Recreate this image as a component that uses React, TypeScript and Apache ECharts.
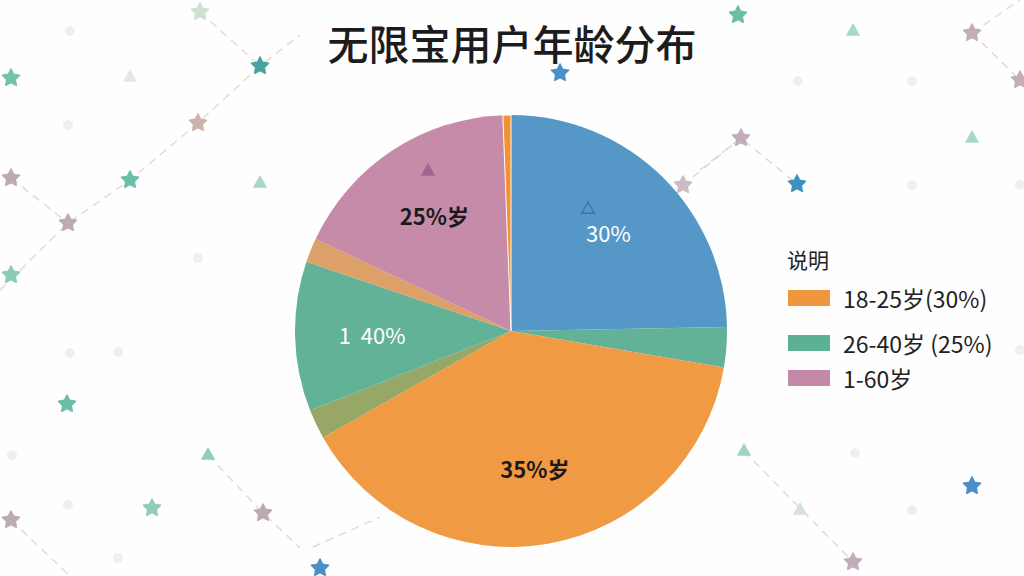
import React, { useEffect, useRef } from "react";
import * as echarts from "echarts";

// ---- data ----
const titleText = "无限宝用户年龄分布";
const sliceNames = ["A", "B", "C", "D", "E", "F", "G", "H"];
const sliceValues = [24.7, 3.0, 39.1, 2.2, 11.2, 1.8, 17.4, 0.6];
const sliceColors = ["#4e93c5", "#5caf93", "#f0963c", "#93a35f", "#5caf93", "#dc9c62", "#c486a6", "#f08f2a"];
const sliceLabels = ["30%", "", "35%岁", "", "1  40%", "", "25%岁", ""];
const sliceLabelColors = ["#ffffff", "#ffffff", "#1a1a1a", "#ffffff", "#ffffff", "#ffffff", "#1a1a1a", "#ffffff"];
const sliceLabelWeights = ["normal", "normal", "bold", "normal", "normal", "normal", "bold", "normal"];
const legendTitle = "说明";
const legendLabels = ["18-25岁(30%)", "26-40岁 (25%)", "1-60岁"];
const legendColors = ["#f0963c", "#5cb093", "#c488a8"];

// ---- decoration (not data) ----
const decoStars: [number, number, string][] = [
  [200, 12, "#cfe0d2"], [260, 66, "#4aa3a0"], [130, 180, "#6cc0aa"], [68, 223, "#bdaab2"],
  [11, 178, "#bdaab2"], [11, 78, "#74c2a8"], [11, 275, "#8ccbb5"], [67, 404, "#6cbea8"],
  [11, 520, "#bdaab2"], [263, 513, "#bdaab2"], [738, 15, "#6cbea8"], [1020, 80, "#c4adba"],
  [741, 138, "#c4adba"], [797, 184, "#3d92c0"], [853, 562, "#c4adba"], [972, 486, "#4b8fc8"],
  [560, 73, "#4a90c8"], [320, 568, "#4a90c8"], [683, 185, "#cdbac2"], [198, 123, "#cbb3ab"],
  [972, 33, "#c4adba"], [152, 508, "#8fcdb9"],
];
const decoTris: [number, number, string][] = [
  [853, 31, "#a8d8c8"], [972, 138, "#a8d8c8"], [744, 451, "#9fd4c2"], [800, 510, "#cfe3da"],
  [208, 455, "#8fcdb9"], [260, 183, "#a8d8c8"], [130, 77, "#e6e6e6"],
];
const decoLines: [number, number][][] = [
  [[0, 290], [68, 223], [130, 180], [198, 123], [260, 66], [300, 35]],
  [[200, 12], [260, 66]],
  [[11, 178], [68, 223]],
  [[208, 455], [263, 513], [300, 548]],
  [[11, 520], [70, 576]],
  [[700, 170], [741, 138], [797, 184]],
  [[972, 33], [1020, 80]],
  [[972, 33], [1020, 0]],
  [[744, 451], [853, 562]],
  [[693, 177], [747, 133]],
  [[313, 547], [380, 517]],
];
const decoDots: [number, number][] = [
  [70, 31], [68, 125], [198, 258], [70, 353], [118, 352], [12, 455], [68, 505], [118, 558],
  [798, 81], [912, 81], [912, 185], [1020, 185], [855, 453], [912, 510], [1020, 350],
];

function starPts(cx: number, cy: number, r: number) {
  const pts: number[][] = [];
  for (let i = 0; i < 10; i++) {
    const a = ((-90 + i * 36) * Math.PI) / 180;
    const rr = i % 2 ? r * 0.5 : r;
    pts.push([cx + rr * Math.cos(a), cy + rr * Math.sin(a)]);
  }
  return pts;
}
function triPts(cx: number, cy: number, r: number) {
  return [[cx, cy - r], [cx + r * 0.9, cy + r * 0.6], [cx - r * 0.9, cy + r * 0.6]];
}

export default function App() {
  const ref = useRef<HTMLDivElement>(null);
  useEffect(() => {
    if (!ref.current) return;
    const chart = echarts.init(ref.current, undefined, { renderer: "svg" });
    const cx = 511;
    const cy = 331;
    const R = 216;

    const graphics: any[] = [];
    decoLines.forEach((pts) =>
      graphics.push({
        type: "polyline",
        z: 0,
        shape: { points: pts },
        style: { stroke: "#e4dccb", lineWidth: 1.5, lineDash: [8, 6], fill: null },
      })
    );
    decoDots.forEach(([x, y]) =>
      graphics.push({ type: "circle", z: 0, shape: { cx: x, cy: y, r: 5 }, style: { fill: "#f0efee" } })
    );
    decoStars.forEach(([x, y, c]) =>
      graphics.push({ type: "polygon", z: 0, shape: { points: starPts(x, y, 9) }, style: { fill: c, lineJoin: "round", stroke: c, lineWidth: 1.5 } })
    );
    decoTris.forEach(([x, y, c]) =>
      graphics.push({ type: "polygon", z: 0, shape: { points: triPts(x, y, 8) }, style: { fill: c } })
    );
    // small markers on the pie
    graphics.push({ type: "polygon", z: 20, shape: { points: triPts(428, 171, 8) }, style: { fill: "#a5648f" } });
    graphics.push({ type: "polygon", z: 20, shape: { points: triPts(588, 209, 7) }, style: { fill: "none", stroke: "#3a78aa", lineWidth: 1.5 } });

    // legend
    graphics.push({
      type: "text",
      z: 20,
      left: 787,
      top: 248,
      style: { text: legendTitle, fontSize: 21, fill: "#222", fontFamily: "Noto Sans CJK SC" },
    });
    const legendYs = [298, 343, 378];
    legendLabels.forEach((lab, i) => {
      graphics.push({
        type: "rect",
        z: 20,
        shape: { x: 788, y: legendYs[i] - 8, width: 42, height: 16 },
        style: { fill: legendColors[i] },
      });
      graphics.push({
        type: "text",
        z: 20,
        x: 843,
        y: legendYs[i],
        style: {
          text: lab,
          fontSize: 23,
          fill: "#222",
          fontFamily: "Noto Sans CJK SC",
          verticalAlign: "middle",
        },
      });
    });

    const data = sliceValues.map((v, i) => ({
      name: sliceNames[i],
      value: v,
      itemStyle: {
        color: sliceColors[i],
        borderColor: i === sliceValues.length - 1 ? "#ffffff" : undefined,
        borderWidth: i === sliceValues.length - 1 ? 1 : 0,
      },
    }));
    const labelData = sliceValues.map((v, i) => ({
      name: sliceNames[i],
      value: v,
      label: { color: sliceLabelColors[i], fontWeight: sliceLabelWeights[i] },
    }));

    chart.setOption({
      animation: false,
      backgroundColor: "#fefefe",
      title: {
        text: titleText,
        left: "center",
        top: 16,
        textStyle: { fontSize: 41, fontWeight: 500, color: "#1c1c1c", fontFamily: "Noto Sans CJK SC" },
      },
      graphic: graphics,
      series: [
        {
          type: "pie",
          z: 2,
          center: [cx, cy],
          radius: R,
          startAngle: 90,
          clockwise: true,
          label: { show: false },
          labelLine: { show: false },
          itemStyle: { opacity: 0.96 },
          silent: true,
          data,
        },
        {
          type: "pie",
          z: 3,
          center: [cx, cy],
          radius: [56, R],
          startAngle: 90,
          clockwise: true,
          silent: true,
          itemStyle: { color: "transparent" },
          labelLine: { show: false },
          label: {
            show: true,
            position: "inside",
            fontSize: 22,
            fontFamily: "Noto Sans CJK SC",
            formatter: (p: any) => sliceLabels[p.dataIndex],
          },
          data: labelData,
        },
      ],
    });
    return () => chart.dispose();
  }, []);
  return <div ref={ref} style={{ position: "fixed", left: 0, top: 0, width: 1024, height: 576 }} />;
}
